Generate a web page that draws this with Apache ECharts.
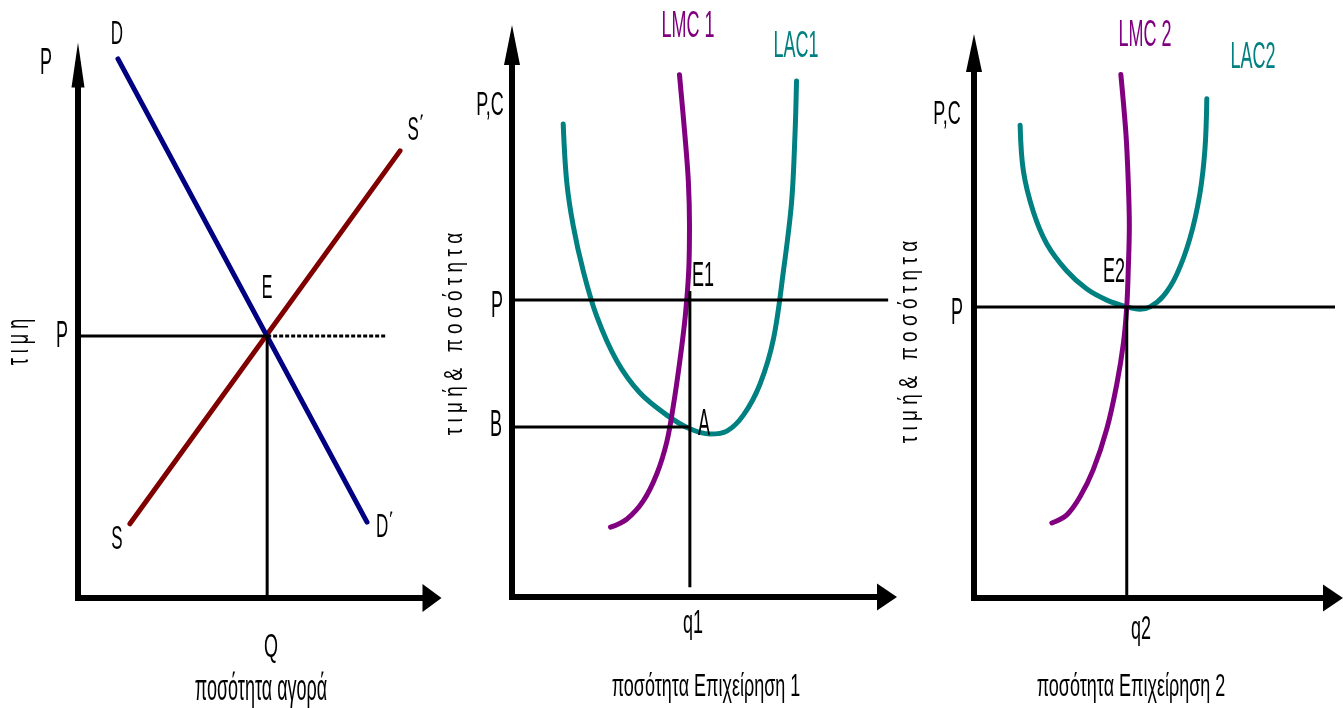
<!DOCTYPE html>
<html>
<head>
<meta charset="utf-8">
<script src="https://cdn.jsdelivr.net/npm/echarts@6/dist/echarts.min.js"></script>
<style>
  html, body { margin: 0; padding: 0; background: #fff; }
  #chart { width: 1343px; height: 708px; }
</style>
</head>
<body>
<div id="chart"></div>
<script>
// ── Data (abstract price / quantity units per panel) ─────────────────────────
// Panel 1: market
const demandD = [[1.10, 9.73], [7.96, 1.37]];
const supplyS = [[1.43, 1.34], [8.87, 8.07]];
const marketP = 4.73;
const marketQ = 5.21;
const marketDashEnd = 8.46;

// Panel 2: firm 1
const lmc1 = [[2.56, 1.22], [2.98, 1.36], [3.41, 1.68], [3.76, 2.15], [4.02, 2.71], [4.19, 3.34],
  [4.36, 4.13], [4.50, 4.91], [4.59, 5.70], [4.61, 6.49], [4.58, 7.27], [4.49, 8.08], [4.35, 9.13]];
const lac1 = [[1.33, 8.27], [1.42, 7.27], [1.59, 6.49], [1.85, 5.70], [2.20, 4.91], [2.72, 4.13],
  [3.32, 3.57], [4.02, 3.18], [4.62, 2.94], [5.14, 2.85], [5.58, 2.90], [6.01, 3.18], [6.44, 3.72],
  [6.79, 4.51], [7.05, 5.70], [7.26, 6.89], [7.35, 8.08], [7.39, 9.02]];
const firm1P = 5.19;
const firm1B = 2.97;
const firm1Q = 4.62;
const firm1PEnd = 9.77;
const firm1QBottom = 0.17;

// Panel 3: firm 2
const lmc2 = [[2.11, 1.33], [2.51, 1.47], [2.87, 1.79], [3.23, 2.27], [3.60, 3.00], [3.87, 3.79],
  [4.05, 4.52], [4.14, 5.16], [4.18, 5.80], [4.21, 6.60], [4.18, 7.39], [4.12, 8.21], [3.98, 9.28]];
const lac2 = [[1.25, 8.38], [1.34, 7.56], [1.61, 6.84], [1.97, 6.28], [2.51, 5.80], [3.05, 5.48],
  [3.60, 5.28], [4.14, 5.16], [4.50, 5.12], [4.77, 5.16], [5.13, 5.35], [5.49, 5.73], [5.85, 6.37],
  [6.12, 7.16], [6.26, 7.96], [6.31, 8.85]];
const firm2P = 5.16;
const firm2Q = 4.14;
const firm2PEnd = 10.3;

// Texts
const panel1Texts = ['P', 'D', 'S΄', 'E', 'P', 'S', 'D΄', 'Q', 'ποσότητα αγορά', 'τ ι μ η'];
const panel2Texts = ['LMC 1', 'LAC1', 'P,C', 'E1', 'P', 'B', 'A', 'q1', 'ποσότητα Επιχείρηση 1', 'τ ι μ ή &   π ο σ ό τ η τ α'];
const panel3Texts = ['LMC 2', 'LAC2', 'P,C', 'E2', 'P', 'q2', 'ποσότητα Επιχείρηση 2', 'τ ι μ ή &   π ο σ ό τ η τ α'];

// ── Styling ───────────────────────────────────────────────────────────────────
const NAVY = '#000080', MAROON = '#800000', PURPLE = '#800080', TEAL = '#008080';
const FONT = '"Liberation Sans", Arial, sans-serif';

// text layout: [x, y, fontSize, scaleY, color, rotated]
const layout1 = [
  [46, 64, 18, 2.0], [117, 35, 17, 2.0], [416, 131, 17, 2.0], [267, 289, 16, 2.1],
  [62, 337, 18, 2.0], [117, 540, 17, 2.0], [385, 528, 17, 2.0], [271, 648, 18, 1.8],
  [261, 690, 18, 2.0], [20, 342, 18, 1.7, '#000', true],
];
const layout2 = [
  [688, 27, 18, 2.0, PURPLE], [796, 47, 18, 2.1, TEAL], [490, 106, 18, 1.8], [703, 277, 18, 1.9],
  [497, 307, 18, 2.0], [496, 426, 18, 2.0], [704, 425, 18, 2.0], [693, 624, 18, 1.8],
  [706, 688, 18, 1.7], [455, 334, 19, 1.35, '#000', true],
];
const layout3 = [
  [1145, 36, 18, 2.0, PURPLE], [1253, 58, 18, 2.1, TEAL], [947, 115, 18, 1.8], [1114, 273, 18, 1.9],
  [957, 314, 18, 2.0], [1141, 630, 18, 1.8], [1131, 688, 18, 1.7], [910, 342, 19, 1.35, '#000', true],
];

function texts(strs, lay) {
  return strs.map((s, i) => {
    const [x, y, size, sy, color, rot] = lay[i];
    return {
      type: 'text', x, y, scaleY: sy, rotation: rot ? Math.PI / 2 : 0, z: 100, silent: true,
      style: { text: s, fontSize: size, fontFamily: FONT, fill: color || '#000',
        align: 'center', verticalAlign: 'middle' },
    };
  });
}

function axisPair(idx, xMax, yMax, xArrow, yArrow) {
  const base = (arrow) => ({
    show: true, onZero: false,
    symbol: ['none', 'triangle'], symbolSize: arrow,
    lineStyle: { color: '#000', width: 6, cap: 'square' },
  });
  return {
    x: { type: 'value', gridIndex: idx, min: 0, max: xMax, axisLine: base(xArrow),
      axisTick: { show: false }, axisLabel: { show: false }, splitLine: { show: false } },
    y: { type: 'value', gridIndex: idx, min: 0, max: yMax, axisLine: base(yArrow),
      axisTick: { show: false }, axisLabel: { show: false }, splitLine: { show: false } },
  };
}

const axes = [
  axisPair(0, 9.75, 9.62, [28, 19], [13, 45]),
  axisPair(1, 9.74, 9.65, [27, 20], [16, 40]),
  axisPair(2, 9.73, 9.66, [27, 20], [16, 38]),
];

function curve(idx, data, color, width, smooth, z) {
  return {
    type: 'line', xAxisIndex: idx, yAxisIndex: idx, data, smooth: smooth || false,
    showSymbol: false, symbol: 'none', clip: false, silent: true, z: z || 2,
    lineStyle: { color, width, cap: 'round', join: 'round' },
  };
}
function ref(idx, data, extra) {
  const s = curve(idx, data, '#000', 3, false, 5);
  s.lineStyle.cap = 'butt';
  Object.assign(s.lineStyle, extra || {});
  return s;
}

const option = {
  backgroundColor: '#fff',
  animation: false,
  grid: [
    { left: 78, top: 65, width: 354, height: 533 },
    { left: 512, top: 45, width: 375, height: 552 },
    { left: 974, top: 53, width: 359, height: 545 },
  ],
  xAxis: axes.map((a) => a.x),
  yAxis: axes.map((a) => a.y),
  series: [
    // market
    ref(0, [[0, marketP], [marketQ, marketP]]),
    ref(0, [[marketQ, marketP], [marketDashEnd, marketP]], { type: [4, 2] }),
    ref(0, [[marketQ, 0], [marketQ, marketP]]),
    curve(0, supplyS, MAROON, 5),
    curve(0, demandD, NAVY, 5),
    // firm 1
    curve(1, lac1, TEAL, 5, 0.35),
    curve(1, lmc1, PURPLE, 5, 0.35, 3),
    ref(1, [[0, firm1P], [firm1PEnd, firm1P]]),
    ref(1, [[0, firm1B], [firm1Q, firm1B]]),
    ref(1, [[firm1Q, firm1QBottom], [firm1Q, firm1P + 0.16]]),
    // firm 2
    curve(2, lac2, TEAL, 5, 0.35),
    curve(2, lmc2, PURPLE, 5, 0.35, 3),
    ref(2, [[0, firm2P], [firm2PEnd, firm2P]]),
    ref(2, [[firm2Q, 0], [firm2Q, firm2P]]),
  ],
  graphic: [
    ...texts(panel1Texts, layout1),
    ...texts(panel2Texts, layout2),
    ...texts(panel3Texts, layout3),
  ],
};

const chart = echarts.init(document.getElementById('chart'), null, { renderer: 'canvas' });
chart.setOption(option);
</script>
</body>
</html>
